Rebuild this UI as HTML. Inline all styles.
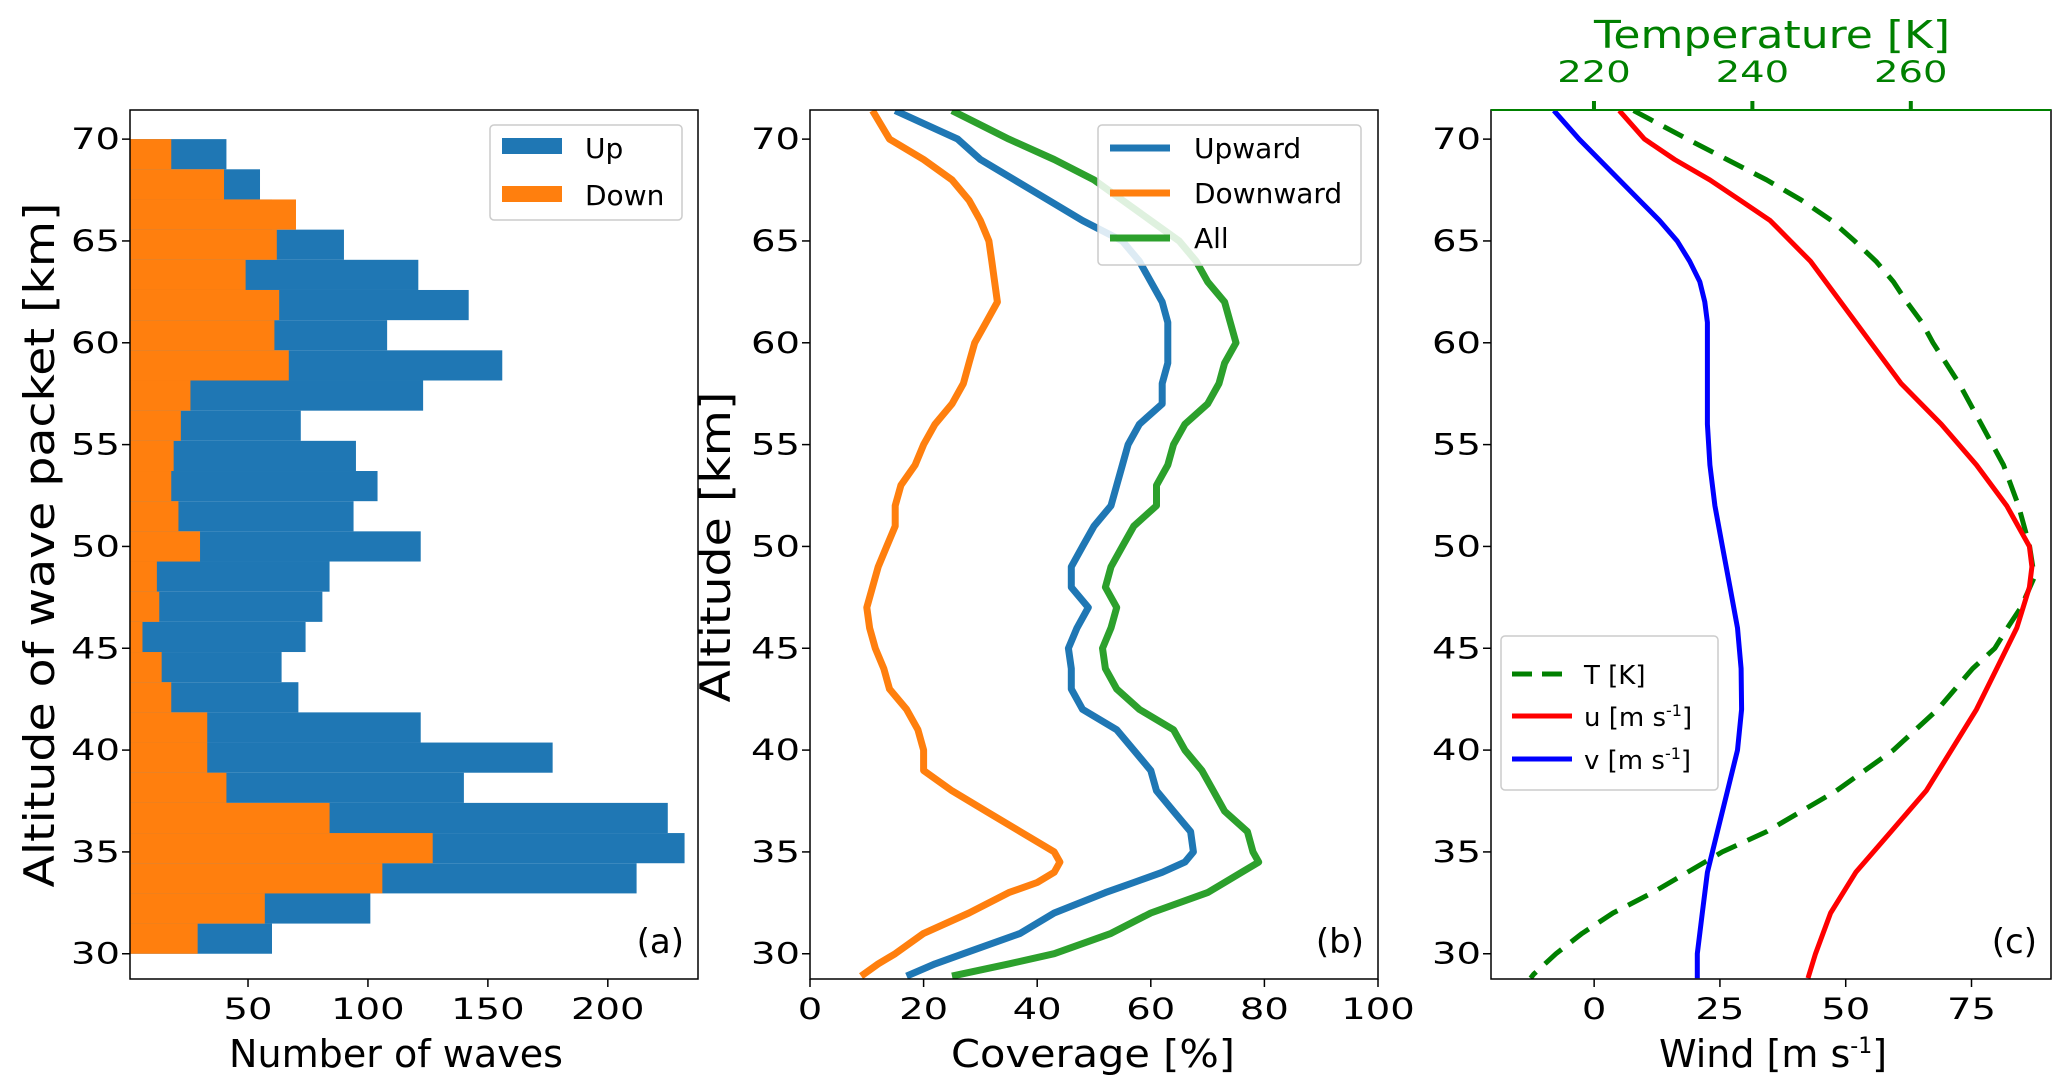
<!DOCTYPE html>
<html><head><meta charset="utf-8">
<style>
html,body{margin:0;padding:0;background:#fff;}
svg{display:block;font-family:"DejaVu Sans","Liberation Sans",sans-serif;}
</style></head>
<body>
<svg id="fig" width="2067" height="1090" viewBox="0 0 2067 1090"></svg>
<script>
// ---- Panel (a) data: 27 altitude bins from 30 to 70 km, listed top to bottom ----
const binCount = 27;
const upCounts = [41,55,60,90,121,142,108,156,123,72,95,104,94,122,84,81,74,64,71,122,177,140,225,232,212,101,60];
const downCounts = [18,40,70,62,49,63,61,67,26,22,19,18,21,30,12,13,6,14,18,33,33,41,84,127,106,57,29];
const aTicks = [50,100,150,200];
const altTicks = [30,35,40,45,50,55,60,65,70];
// ---- Panel (b) data ----
const bAlt = [71.4,70,69,68,67,66,65,64,63,62,61,60,59,58,57,56,55,54,53,52,51,50,49,48,47,46,45,44,43,42,41,40,39,38,37,36,35,34.5,34,33.5,33,32,31,30,29.5,28.9];
const downward = [11,14,20,25,28,30,31.5,32,32.5,33,31,29,28,27,25,22,20,18.5,16,15,15,13.5,12,11,10,10.5,11.5,13,14,17,19,20,20,25,31,37,43,44,43,40,35,28,20,15,12,9];
const upward = [15,26,30,36,42,48,55,58,60,62,63,63,63,62,62,58,56,55,54,53,50,48,46,46,49,47,45.5,46,46,48,54,57,60,61,64,67,67.5,66,62,57,52,43,37,27,22,17];
const allWaves = [25,35,43,50,55,60,65,68,70,73,74,75,73,72,70,66,64,63,61,61,57,55,53,52,54,53,51.5,52,54,58,64,66,69,71,73,77,78,79,76,73,70,60,53,43,35,25];
const bTicks = [0,20,40,60,80,100];
// ---- Panel (c) data ----
const vAlt = [71.4,70,69,68,67,66,65,64,63,62,61,60,58,56,54,52,50,48,46,44,42,40,38,36,34,32,30,28.8];
const vWind = [-8,-3,1,5,9,13,16.5,19,21,22,22.5,22.5,22.5,22.5,23,24,25.5,27,28.5,29.2,29.3,28.5,26.5,24.5,22.5,21.5,20.5,20.5];
const uAlt = [71.4,70,69,68,67,66,65,64,62,60,58,56,54,52,50,49,48,46,44,42,40,38,36,34,32,30,28.8];
const uWind = [5,10,16,23,29,35,39,43,49,55,61,69,76,82,86.5,87,86.5,84,80,76,71,66,59,52,47,44,42.5];
const tAlt = [71.4,70,69,68,67,66,65,64,63,62,61,60,58,56,54,52,50,48.5,47,46,45,44,42,40,38,36,35,34,33,32,31,30,29,28.8];
const tempK = [225,231.8,236.8,241.8,246.2,250,252.9,255.6,257.8,259.5,261.4,262.8,266.1,268.9,271.7,273.6,275,275.6,273.9,272.2,270.6,267.8,263.4,257.8,250.6,241.8,236.2,231.8,227.4,222.4,218.5,215.2,212.4,212];
const windTicks = [0,25,50,75];
const tempTicks = [220,240,260];

const NS = "http://www.w3.org/2000/svg";
const svg = document.getElementById('fig');
function el(tag, attrs, parent){
  const e = document.createElementNS(NS, tag);
  for (const k in attrs) e.setAttribute(k, attrs[k]);
  (parent||svg).appendChild(e);
  return e;
}
function txt(s, attrs, parent){ const t = el('text', attrs, parent); t.textContent = s; return t; }
function tickTxt(s, attrs, parent){
  attrs['textLength'] = String(s).length * 24.5;
  attrs['lengthAdjust'] = 'spacingAndGlyphs';
  attrs['font-size'] = 29;
  return txt(String(s), attrs, parent);
}

const TOP = 110, BOT = 979;
const YMIN = 28.76, YMAX = 71.43;
function yScale(v){ return BOT - (v - YMIN) / (YMAX - YMIN) * (BOT - TOP); }
function makeX(x0, x1, v0, v1){ return v => x0 + (v - v0) / (v1 - v0) * (x1 - x0); }

function yAxis(left, prefix){
  const g = el('g', {});
  
  
  altTicks.forEach(t => {
    const y = yScale(t);
    el('line', {x1:left-8, x2:left, y1:y, y2:y, stroke:'#000', 'stroke-width':1.5}, g);
    const l = tickTxt(t, {x:left-10, y:y+10, 'text-anchor':'end'}, g);
    
    
  });
}
function xAxis(xs, ticks, prefix){
  const g = el('g', {});
  
  
  ticks.forEach(t => {
    const x = xs(t);
    el('line', {x1:x, x2:x, y1:BOT, y2:BOT+8, stroke:'#000', 'stroke-width':1.5}, g);
    const l = tickTxt(t, {x:x, y:BOT+40, 'text-anchor':'middle'}, g);
    
    
  });
}
function frame(x0, x1, name, topColor){
  const r = el('rect', {x:x0, y:TOP, width:x1-x0, height:BOT-TOP, fill:'none', stroke:'#000', 'stroke-width':1.5});
  
  
  if (topColor) el('line', {x1:x0, x2:x1, y1:TOP, y2:TOP, stroke:topColor, 'stroke-width':2});
}
function clip(id, x0, x1){
  const d = el('clipPath', {id:id});
  el('rect', {x:x0, y:TOP, width:x1-x0, height:BOT-TOP}, d);
}
function poly(xsArr, ysArr, xs, color, w, dash){
  const pts = xsArr.map((v,i) => xs(v).toFixed(1) + ',' + yScale(ysArr[i]).toFixed(1)).join(' ');
  const a = {points:pts, fill:'none', stroke:color, 'stroke-width':w, 'stroke-linejoin':'round'};
  if (dash) a['stroke-dasharray'] = dash;
  return a;
}

// ================= Panel (a) =================
const AL = 130, AR = 698;
const xa = makeX(AL, AR, 0.8, 237.6);
clip('clipA', AL, AR);
const gA = el('g', {'clip-path':'url(#clipA)'});


const binW = 40 / binCount;
upCounts.forEach((v,i) => {
  const hi = 70 - i*binW, lo = hi - binW;
  const r = el('rect', {x:xa(0), y:yScale(hi), width:xa(v)-xa(0), height:yScale(lo)-yScale(hi), fill:'#1f77b4'}, gA);
  
  
});
downCounts.forEach((v,i) => {
  const hi = 70 - i*binW, lo = hi - binW;
  const r = el('rect', {x:xa(0), y:yScale(hi), width:xa(v)-xa(0), height:yScale(lo)-yScale(hi), fill:'#ff7f0e'}, gA);
  
  
});
frame(AL, AR, 'panel-a-frame');
yAxis(AL, 'panel-a');
xAxis(xa, aTicks, 'panel-a');
let t;
t = txt('Altitude of wave packet [km]', {x:0, y:0, 'font-size':42, 'text-anchor':'middle', textLength:685, lengthAdjust:'spacingAndGlyphs', transform:'translate(54,545) rotate(-90)'});
 
t = txt('Number of waves', {x:396, y:1067, 'font-size':38, 'text-anchor':'middle', textLength:334, lengthAdjust:'spacingAndGlyphs'});
 
t = txt('(a)', {x:684, y:953, 'font-size':34, 'text-anchor':'end'});
 
const lgA = el('g', {});
 
el('rect', {x:490, y:125, width:192, height:95, rx:4, fill:'#fff', 'fill-opacity':0.85, stroke:'#ccc', 'stroke-width':1.5}, lgA);
el('rect', {x:502, y:138, width:60, height:16, fill:'#1f77b4'}, lgA);
el('rect', {x:502, y:186, width:60, height:16, fill:'#ff7f0e'}, lgA);
t = txt('Up', {x:585, y:158, 'font-size':28}, lgA);  
t = txt('Down', {x:585, y:205, 'font-size':28}, lgA);  

// ================= Panel (b) =================
const BL = 810, BR = 1378;
const xb = makeX(BL, BR, 0, 100);
clip('clipB', BL, BR);
const gB = el('g', {'clip-path':'url(#clipB)'});
 
let p;
p = el('polyline', poly(downward, bAlt, xb, '#ff7f0e', 7), gB);  
p = el('polyline', poly(upward, bAlt, xb, '#1f77b4', 7), gB);  
p = el('polyline', poly(allWaves, bAlt, xb, '#2ca02c', 7), gB);  
frame(BL, BR, 'panel-b-frame');
yAxis(BL, 'panel-b');
xAxis(xb, bTicks, 'panel-b');
t = txt('Altitude [km]', {x:0, y:0, 'font-size':42, 'text-anchor':'middle', textLength:311, lengthAdjust:'spacingAndGlyphs', transform:'translate(730,547) rotate(-90)'});
 
t = txt('Coverage [%]', {x:1093, y:1067, 'font-size':38, 'text-anchor':'middle', textLength:284, lengthAdjust:'spacingAndGlyphs'});
 
t = txt('(b)', {x:1364, y:953, 'font-size':34, 'text-anchor':'end'});
 
const lgB = el('g', {});
 
el('rect', {x:1098, y:125, width:263, height:140, rx:4, fill:'#fff', 'fill-opacity':0.85, stroke:'#ccc', 'stroke-width':1.5}, lgB);
[['Upward','#1f77b4',148],['Downward','#ff7f0e',193],['All','#2ca02c',238]].forEach(e => {
  el('line', {x1:1110, x2:1170, y1:e[2], y2:e[2], stroke:e[1], 'stroke-width':7}, lgB);
  const tt = txt(e[0], {x:1194, y:e[2]+10, 'font-size':28}, lgB);
   
});

// ================= Panel (c) =================
const CL = 1491, CR = 2051;
const xc = makeX(CL, CR, -20.5, 90.8);
const xt = makeX(CL, CR, 207.0, 277.7);
clip('clipC', CL, CR);
const gC = el('g', {'clip-path':'url(#clipC)'});
 
p = el('polyline', poly(tempK, tAlt, xt, '#008000', 5, '22,12'), gC);  
p = el('polyline', poly(uWind, uAlt, xc, '#ff0000', 5), gC);  
p = el('polyline', poly(vWind, vAlt, xc, '#0000ff', 5), gC);  
frame(CL, CR, 'panel-c-frame', '#008000');
yAxis(CL, 'panel-c');
xAxis(xc, windTicks, 'panel-c');
const gT = el('g', {});
 
tempTicks.forEach(v => {
  const x = xt(v);
  el('line', {x1:x, x2:x, y1:TOP, y2:TOP-9, stroke:'#008000', 'stroke-width':4}, gT);
  const l = tickTxt(v, {x:x, y:TOP-28, 'text-anchor':'middle', fill:'#008000'}, gT);
   
});
t = txt('Temperature [K]', {x:1772, y:48, 'font-size':38, 'text-anchor':'middle', fill:'#008000', textLength:356, lengthAdjust:'spacingAndGlyphs'});
 
t = el('text', {x:1773, y:1067, 'font-size':38, 'text-anchor':'middle'});
t.innerHTML = 'Wind [m s<tspan font-size="22" dy="-14">-1</tspan><tspan dy="14">]</tspan>';
 
t = txt('(c)', {x:2037, y:953, 'font-size':34, 'text-anchor':'end'});
 
const lgC = el('g', {});
 
el('rect', {x:1501, y:636, width:217, height:154, rx:4, fill:'#fff', 'fill-opacity':0.85, stroke:'#ccc', 'stroke-width':1.5}, lgC);
el('line', {x1:1512, x2:1572, y1:674, y2:674, stroke:'#008000', 'stroke-width':5, 'stroke-dasharray':'20,10'}, lgC);
el('line', {x1:1512, x2:1572, y1:716, y2:716, stroke:'#ff0000', 'stroke-width':5}, lgC);
el('line', {x1:1512, x2:1572, y1:759, y2:759, stroke:'#0000ff', 'stroke-width':5}, lgC);
t = txt('T [K]', {x:1584, y:684, 'font-size':26}, lgC);  
t = el('text', {x:1584, y:726, 'font-size':26}, lgC); t.innerHTML = 'u [m s<tspan font-size="16" dy="-10">-1</tspan><tspan dy="10">]</tspan>';
 
t = el('text', {x:1584, y:769, 'font-size':26}, lgC); t.innerHTML = 'v [m s<tspan font-size="16" dy="-10">-1</tspan><tspan dy="10">]</tspan>';
 
</script>
</body></html>
